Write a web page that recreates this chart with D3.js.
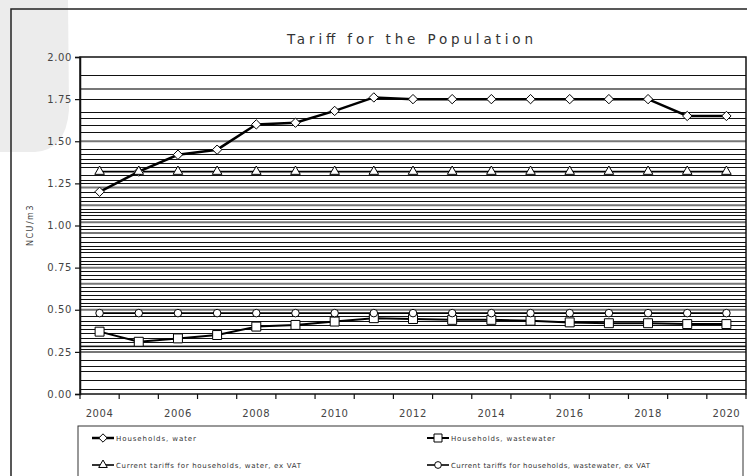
<!DOCTYPE html>
<html><head><meta charset="utf-8">
<script src="https://cdn.jsdelivr.net/npm/d3@7"></script>
<style>html,body{margin:0;padding:0;background:#fff;overflow:hidden}</style>
</head><body>
<svg id="c" width="747" height="476"></svg>
<script>
const years = [2004,2005,2006,2007,2008,2009,2010,2011,2012,2013,2014,2015,2016,2017,2018,2019,2020];
const householdsWater = [1.20,1.32,1.42,1.45,1.60,1.61,1.68,1.76,1.75,1.75,1.75,1.75,1.75,1.75,1.75,1.65,1.65];
const householdsWastewater = [0.37,0.31,0.33,0.35,0.40,0.41,0.43,0.45,0.445,0.44,0.44,0.435,0.425,0.42,0.42,0.415,0.415];
const tariffWaterExVat = [1.32,1.32,1.32,1.32,1.32,1.32,1.32,1.32,1.32,1.32,1.32,1.32,1.32,1.32,1.32,1.32,1.32];
const tariffWastewaterExVat = [0.48,0.48,0.48,0.48,0.48,0.48,0.48,0.48,0.48,0.48,0.48,0.48,0.48,0.48,0.48,0.48,0.48];
const yTicks = [0,0.25,0.5,0.75,1.0,1.25,1.5,1.75,2.0];
const xLabels = [2004,2006,2008,2010,2012,2014,2016,2018,2020];
const seriesNames = ["Households, water","Households, wastewater","Current tariffs for households, water, ex VAT","Current tariffs for households, wastewater, ex VAT"];
const title = "Tariff for the Population";
const yTitle = "NCU/m3";
// background hatch lines (values)
const hatchDark = [1.893,1.75,1.674,1.638,1.596,1.555,1.454,1.424,1.395,1.371,1.347,1.30,1.27,1.25,1.197,1.172,1.147,1.10,1.08,1.06,1.04,1.00,0.98,0.93,0.905,0.88,0.86,0.84,0.815,0.79,0.77,0.73,0.705,0.68,0.635,0.61,0.59,0.565,0.54,0.52,0.46,0.435,0.41,0.385,0.36,0.335,0.31,0.285,0.265,0.20,0.165,0.135,0.085,0.03];
const hatchGray = [1.81,1.50,1.225,1.12,1.02,0.955,0.75,0.655,0.50,0.25,0.283];

const svg = d3.select("#c");
const m = {l:80, r:746, t:57, b:394};

// watermark
svg.append("path").attr("d","M0,0 L68,0 L69,110 Q66,150 35,152 L0,152 Z").attr("fill","#ececec");

// outer border
svg.append("rect").attr("x",11).attr("y",9).attr("width",760).attr("height",500)
  .attr("fill","none").attr("stroke","#222").attr("stroke-width",1.5);

const x = d3.scaleBand().domain(years).range([m.l,m.r]).padding(0);
const cx = d => x(d)+x.bandwidth()/2;
const y = d3.scaleLinear().domain([0,2]).range([m.b,m.t]);

svg.append("rect").attr("x",m.l).attr("y",m.t).attr("width",m.r-m.l).attr("height",m.b-m.t).attr("fill","#fff");

const g = svg.append("g");
g.selectAll("line.hg").data(hatchGray).join("line")
  .attr("x1",m.l).attr("x2",m.r).attr("y1",d=>y(d)).attr("y2",d=>y(d))
  .attr("stroke","#777").attr("stroke-width",2);
g.selectAll("line.hd").data(hatchDark).join("line")
  .attr("x1",m.l).attr("x2",m.r).attr("y1",d=>Math.round(y(d))+0.5).attr("y2",d=>Math.round(y(d))+0.5)
  .attr("stroke","#111").attr("stroke-width",1);

svg.append("rect").attr("x",m.l).attr("y",m.t).attr("width",m.r-m.l).attr("height",m.b-m.t)
  .attr("fill","none").attr("stroke","#111").attr("stroke-width",1.5);

const yAxis = d3.axisLeft(y).tickValues(yTicks).tickFormat(d3.format(".2f")).tickSize(5).tickPadding(3);
const ya = svg.append("g").attr("transform",`translate(${m.l},0)`).call(yAxis);
ya.select(".domain").attr("stroke","#111").attr("stroke-width",1.5);
ya.selectAll(".tick line").attr("stroke","#111").attr("stroke-width",1.2);
ya.selectAll("text").attr("font-family","DejaVu Sans").attr("font-size",10).attr("fill","#444").attr("letter-spacing","0.6px");

const xb = years.map(d=>x(d)).concat([m.r]);
svg.selectAll("line.xt").data(xb).join("line")
  .attr("x1",d=>d).attr("x2",d=>d).attr("y1",m.b).attr("y2",m.b+5).attr("stroke","#111").attr("stroke-width",1.2);
svg.selectAll("text.xl").data(xLabels).join("text")
  .attr("x",d=>cx(d)).attr("y",417).attr("text-anchor","middle")
  .attr("font-family","DejaVu Sans").attr("font-size",10).attr("fill","#444").attr("letter-spacing","0.6px")
  .text(d=>d);

svg.append("text").attr("x",410).attr("y",44).attr("text-anchor","middle")
  .attr("font-family","DejaVu Sans").attr("font-size",13.5).attr("fill","#333")
  .attr("textLength",246).attr("lengthAdjust","spacing").text(title);
svg.append("text").attr("transform","translate(33,225) rotate(-90)").attr("text-anchor","middle")
  .attr("font-family","DejaVu Sans").attr("font-size",8).attr("fill","#444").attr("letter-spacing","1.5px").text(yTitle);

// rotated-square diamond
const diamond = {draw(ctx,size){const r=Math.sqrt(size)/2*1.25;ctx.moveTo(0,-r);ctx.lineTo(r,0);ctx.lineTo(0,r);ctx.lineTo(-r,0);ctx.closePath();}};

const line = d3.line().x((d,i)=>cx(years[i])).y(d=>y(d));
const series = [
  {v:householdsWater, sym:diamond, size:56, w:2.5},
  {v:householdsWastewater, sym:d3.symbolSquare, size:80, w:2},
  {v:tariffWaterExVat, sym:d3.symbolTriangle, size:40, w:1.6},
  {v:tariffWastewaterExVat, sym:d3.symbolCircle, size:45, w:1.6}
];
const sg = svg.append("g");
series.forEach(s=>{
  sg.append("path").attr("d",line(s.v)).attr("fill","none").attr("stroke","#000").attr("stroke-width",s.w);
});
series.forEach(s=>{
  sg.selectAll(null).data(s.v).join("path")
    .attr("transform",(d,i)=>`translate(${cx(years[i])},${y(d)})`)
    .attr("d",d3.symbol().type(s.sym).size(s.size))
    .attr("fill","#fff").attr("stroke","#000").attr("stroke-width",1);
});

svg.append("rect").attr("x",78).attr("y",426).attr("width",665).attr("height",80)
  .attr("fill","#fff").attr("stroke","#333").attr("stroke-width",1);
const lpos = [[92,438,80],[427,438,104],[92,465,185],[427,465,199]];
series.forEach((s,i)=>{
  const [lx,ly,tw]=lpos[i];
  svg.append("line").attr("x1",lx).attr("x2",lx+22).attr("y1",ly).attr("y2",ly).attr("stroke","#000").attr("stroke-width",s.w);
  svg.append("path").attr("transform",`translate(${lx+11},${ly})`)
    .attr("d",d3.symbol().type(s.sym).size(s.size*0.8)).attr("fill","#fff").attr("stroke","#000");
  svg.append("text").attr("x",lx+24).attr("y",ly+2.5)
    .attr("font-family","DejaVu Sans").attr("font-size",7).attr("fill","#333")
    .attr("textLength",tw).attr("lengthAdjust","spacing").text(seriesNames[i]);
});
</script>
</body></html>
